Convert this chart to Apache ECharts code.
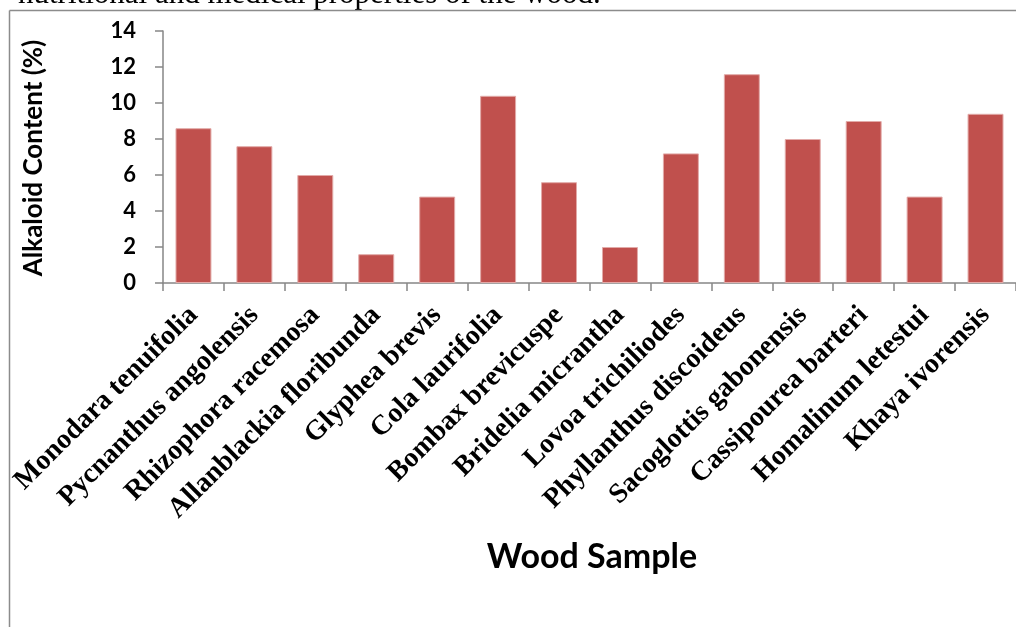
<!DOCTYPE html>
<html>
<head>
<meta charset="utf-8">
<title>Alkaloid Content of Wood Samples</title>
<script src="https://cdn.jsdelivr.net/npm/echarts@6/dist/echarts.min.js"></script>
<style>
  html, body { margin: 0; padding: 0; background: #ffffff; }
  #chart { width: 1016px; height: 627px; }
</style>
</head>
<body>
<div id="chart"></div>
<script>
// Wood species sampled
const woodSamples = [
  'Monodara tenuifolia', 'Pycnanthus angolensis', 'Rhizophora racemosa',
  'Allanblackia floribunda', 'Glyphea brevis', 'Cola laurifolia',
  'Bombax brevicuspe', 'Bridelia micrantha', 'Lovoa trichiliodes',
  'Phyllanthus discoideus', 'Sacoglottis gabonensis', 'Cassipourea barteri',
  'Homalinum letestui', 'Khaya ivorensis'
];

// Alkaloid content (%) per species
const alkaloidContent = [8.6, 7.6, 6.0, 1.6, 4.8, 10.4, 5.6, 2.0, 7.2, 11.6, 8.0, 9.0, 4.8, 9.4];

// Value axis range
const yMin = 0;
const yMax = 14;
const yStep = 2;

const axisGrey = '#868686';
const barRed = '#C0504D';

const chart = echarts.init(document.getElementById('chart'), null, { renderer: 'canvas' });

chart.setOption({
  animation: false,
  backgroundColor: '#ffffff',
  grid: { left: 163, right: -7, top: 31, bottom: 344, containLabel: false },
  xAxis: {
    type: 'category',
    data: woodSamples,
    boundaryGap: true,
    axisLine: { show: true, lineStyle: { color: axisGrey, width: 1.5 } },
    axisTick: { show: true, length: 8, inside: false, lineStyle: { color: axisGrey, width: 1.5 } },
    axisLabel: {
      interval: 0,
      rotate: 45,
      margin: 28,
      color: '#000000',
      fontFamily: '"Liberation Serif", "Times New Roman", serif',
      fontWeight: 'bold',
      fontSize: 28
    },
    splitLine: { show: false }
  },
  yAxis: {
    type: 'value',
    min: yMin,
    max: yMax,
    interval: yStep,
    axisLine: { show: true, lineStyle: { color: axisGrey, width: 1.5 } },
    axisTick: { show: true, length: 8, inside: false, lineStyle: { color: axisGrey, width: 1.5 } },
    axisLabel: {
      margin: 27,
      color: '#000000',
      fontFamily: 'Lato, "Open Sans", sans-serif',
      fontWeight: 'bold',
      fontSize: 22
    },
    splitLine: { show: false }
  },
  series: [{
    type: 'bar',
    data: alkaloidContent,
    barWidth: '59%',
    itemStyle: { color: barRed, borderColor: '#e2aaa8', borderWidth: 1 }
  }],
  graphic: [
    // frame around the figure
    { type: 'line', shape: { x1: 9.5, y1: 10.5, x2: 9.5, y2: 627 }, style: { stroke: '#8c8c8c', lineWidth: 1.5 } },
    { type: 'line', shape: { x1: 9.5, y1: 10.5, x2: 1016, y2: 10.5 }, style: { stroke: '#8c8c8c', lineWidth: 1.5 } },
    // running text above the figure (only its lower part falls on the page)
    {
      type: 'text', x: 18, y: -5, z: -1,
      style: {
        text: 'nutritional and medical properties of the wood.',
        verticalAlign: 'middle',
        font: '31px "Liberation Serif", serif', fill: '#000000'
      }
    },
    // axis titles
    {
      type: 'text', x: 34, y: 158, rotation: Math.PI / 2,
      style: {
        text: 'Alkaloid Content (%)', align: 'center', verticalAlign: 'middle',
        font: 'bold 26px Lato, "Open Sans", sans-serif', fill: '#000000'
      }
    },
    {
      type: 'text', x: 592, y: 557,
      style: {
        text: 'Wood Sample', align: 'center', verticalAlign: 'middle',
        font: 'bold 34px Lato, "Open Sans", sans-serif', fill: '#000000'
      }
    }
  ]
});
</script>
</body>
</html>
